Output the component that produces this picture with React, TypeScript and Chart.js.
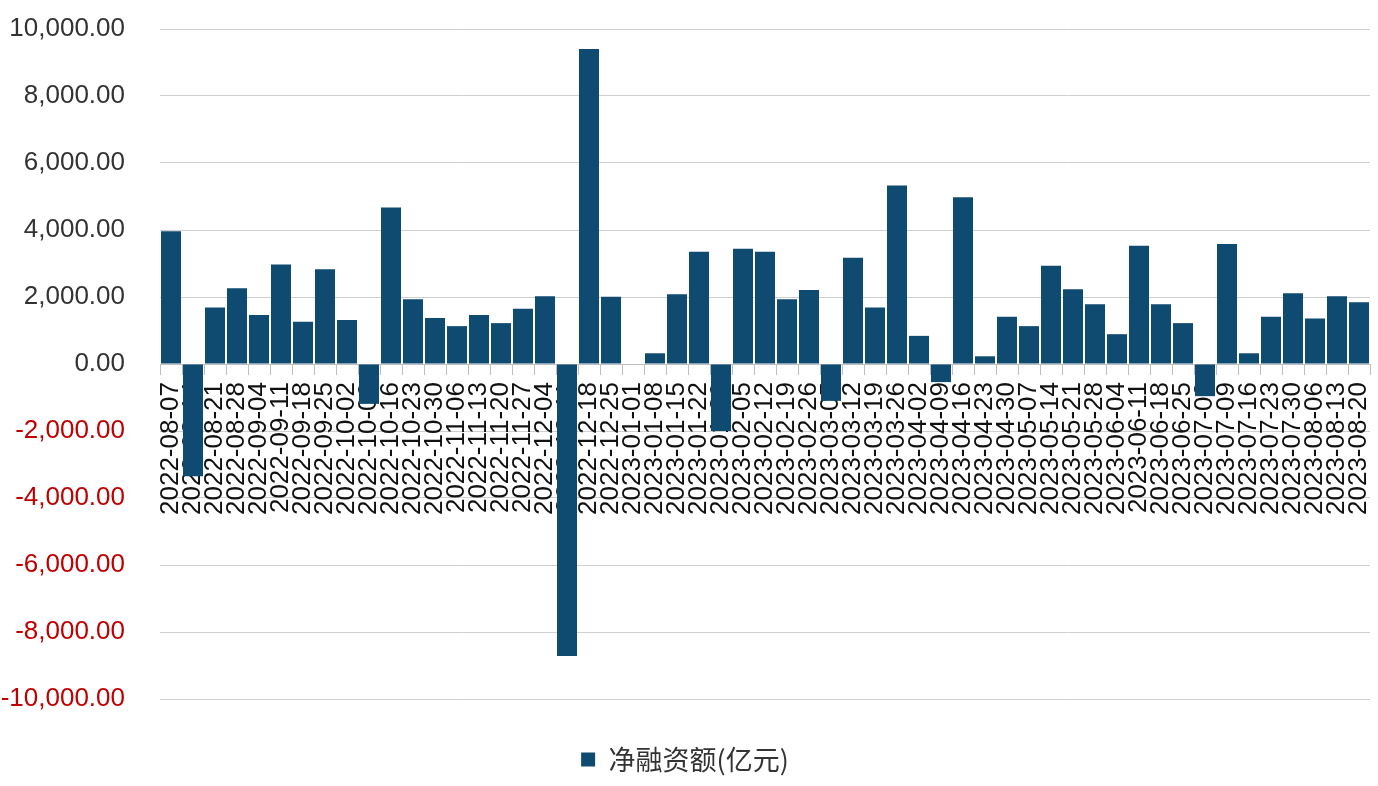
import React, { useEffect, useRef } from "react";
import { Chart, registerables } from "chart.js";

Chart.register(...registerables);

const categories: string[] = [
  "2022-08-07", "2022-08-14", "2022-08-21", "2022-08-28", "2022-09-04", "2022-09-11", "2022-09-18",
  "2022-09-25", "2022-10-02", "2022-10-09", "2022-10-16", "2022-10-23", "2022-10-30", "2022-11-06",
  "2022-11-13", "2022-11-20", "2022-11-27", "2022-12-04", "2022-12-11", "2022-12-18", "2022-12-25",
  "2023-01-01", "2023-01-08", "2023-01-15", "2023-01-22", "2023-01-29", "2023-02-05", "2023-02-12",
  "2023-02-19", "2023-02-26", "2023-03-05", "2023-03-12", "2023-03-19", "2023-03-26", "2023-04-02",
  "2023-04-09", "2023-04-16", "2023-04-23", "2023-04-30", "2023-05-07", "2023-05-14", "2023-05-21",
  "2023-05-28", "2023-06-04", "2023-06-11", "2023-06-18", "2023-06-25", "2023-07-02", "2023-07-09",
  "2023-07-16", "2023-07-23", "2023-07-30", "2023-08-06", "2023-08-13", "2023-08-20",
];

const netFinancing: number[] = [
  3960, -3350, 1690, 2260, 1460, 2970, 1260,
  2830, 1310, -1190, 4670, 1930, 1370, 1130,
  1460, 1220, 1650, 2020, -8720, 9400, 2010,
  0, 320, 2080, 3350, -2000, 3440, 3350,
  1930, 2210, -1100, 3170, 1690, 5330, 840,
  -540, 4980, 230, 1410, 1130, 2930, 2230,
  1780, 890, 3530, 1780, 1220, -960, 3580,
  320, 1410, 2110, 1360, 2020, 1840,
];

const seriesName = "净融资额(亿元)";
const yMin = -10000;
const yMax = 10000;
const yStep = 2000;

export default function App() {
  const canvasRef = useRef<HTMLCanvasElement | null>(null);

  useEffect(() => {
    document.body.style.margin = "0";
    document.body.style.overflow = "hidden";
    const canvas = canvasRef.current;
    if (!canvas) return;
    const chart = new Chart(canvas, {
      type: "bar",
      data: {
        labels: categories,
        datasets: [
          {
            label: seriesName,
            data: netFinancing,
            backgroundColor: "#0f4a70",
            borderWidth: 0,
            categoryPercentage: 1,
            barPercentage: 0.91,
          },
        ],
      },
      options: {
        responsive: false,
        animation: false,
        layout: { padding: { left: 0, right: 8, top: 29, bottom: 3 } },
        plugins: {
          tooltip: { enabled: false },
          legend: {
            display: true,
            position: "bottom",
            align: "center",
            labels: {
              boxWidth: 14,
              boxHeight: 14,
              padding: 47,
              color: "#333333",
              font: { family: "'Noto Sans CJK SC', sans-serif", size: 27 },
            },
          },
        },
        scales: {
          x: {
            position: { y: 0 } as any,
            offset: true,
            afterFit: (scale: any) => {
              scale.paddingLeft = 0;
              scale.paddingRight = 0;
              scale.paddingTop = 0;
              scale.paddingBottom = 0;
            },
            grid: {
              display: true,
              drawOnChartArea: false,
              drawTicks: true,
              tickLength: 10,
              offset: true,
              color: "#bfbfbf",
            },
            border: { display: true, color: "#bfbfbf" },
            ticks: {
              autoSkip: false,
              minRotation: 90,
              maxRotation: 90,
              padding: 8,
              color: "#111111",
              font: { family: "'Liberation Sans', Arial, sans-serif", size: 26 },
            },
          },
          y: {
            min: yMin,
            max: yMax,
            afterFit: (scale: any) => {
              scale.width = 160;
              scale.paddingTop = 0;
              scale.paddingBottom = 0;
            },
            grid: {
              color: "#d0d0d0",
              lineWidth: 1,
              drawTicks: false,
            },
            border: { display: false },
            ticks: {
              stepSize: yStep,
              padding: 35,
              color: (ctx: any) => (ctx.tick && ctx.tick.value < 0 ? "#c00000" : "#333333"),
              font: { family: "'Liberation Sans', Arial, sans-serif", size: 26 },
              callback: (v: any) =>
                Number(v).toLocaleString("en-US", { minimumFractionDigits: 2, maximumFractionDigits: 2 }),
            },
          },
        },
      },
    });
    return () => chart.destroy();
  }, []);

  return (
    <div style={{ position: "fixed", left: 0, top: 0, width: 1378, height: 786, overflow: "hidden", background: "#ffffff" }}>
      <canvas ref={canvasRef} width={1378} height={786} style={{ display: "block" }} />
    </div>
  );
}
